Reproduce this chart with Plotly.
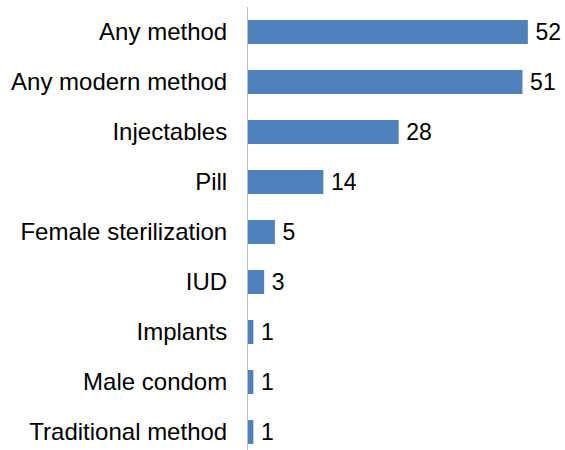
import plotly.graph_objects as go

categories = ["Any method", "Any modern method", "Injectables", "Pill",
              "Female sterilization", "IUD", "Implants", "Male condom",
              "Traditional method"]
values = [52, 51, 28, 14, 5, 3, 1, 1, 1]

fig = go.Figure(go.Bar(
    x=values, y=categories, orientation="h",
    marker=dict(color="#4F81BD", line=dict(width=0)),
    text=values, texttemplate="\u2009%{x}", textposition="outside",
    constraintext="none",
    textfont=dict(size=23, color="#000000", family="Liberation Sans, Arial"),
    cliponaxis=False,
    hoverinfo="skip",
))

fig.update_layout(
    width=565, height=450,
    margin=dict(l=248, r=0, t=7, b=0),
    paper_bgcolor="white", plot_bgcolor="white",
    bargap=0.52,
    showlegend=False,
    font=dict(family="Liberation Sans, Arial", size=24, color="#000000"),
    xaxis=dict(range=[0, 58.9], visible=False, showgrid=False, zeroline=False),
    yaxis=dict(
        type="category", range=[8.36, -0.5],
        showline=True, linecolor="#BFBFBF", linewidth=1,
        ticks="", ticklabelstandoff=15, showgrid=False, zeroline=False,
        tickfont=dict(size=24, color="#000000"),
    ),
)

fig.write_html(
    "out.html",
    config={"displayModeBar": False},
    post_script="document.body.style.margin='0';document.body.style.overflow='hidden';",
)
